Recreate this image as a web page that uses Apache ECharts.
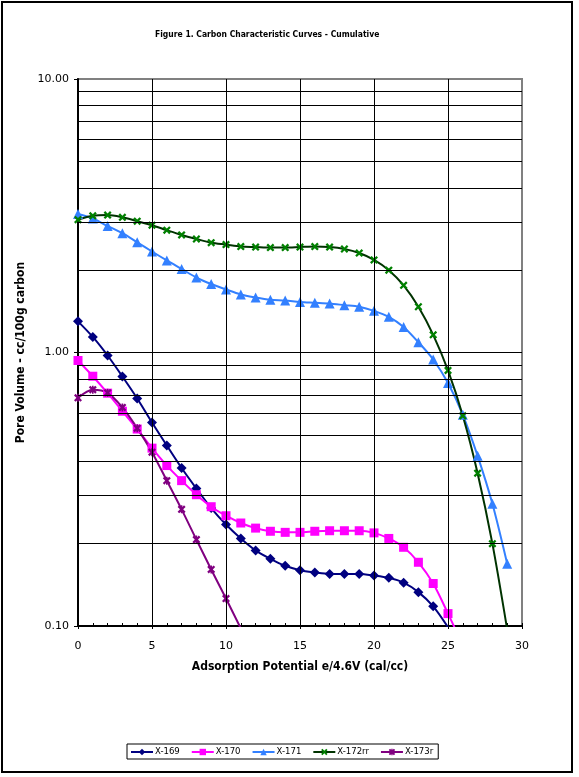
<!DOCTYPE html>
<html>
<head>
<meta charset="utf-8">
<script src="https://cdn.jsdelivr.net/npm/echarts@6/dist/echarts.min.js"></script>
<style>
  html, body { margin: 0; padding: 0; background: #fff; }
  #frame { position: absolute; left: 1px; top: 1px; width: 568px; height: 768px; border: 2px solid #000; }
  #chart { position: absolute; left: 0; top: 0; width: 579px; height: 777px; }
</style>
</head>
<body>
<div id="frame"></div>
<div id="chart"></div>
<script>
// x values (adsorption potential) shared by all series
const potentials = [0, 1, 2, 3, 4, 5, 6, 7, 8, 9, 10, 11, 12, 13, 14, 15, 16, 17, 18, 19, 20, 21, 22, 23, 24, 25, 26, 27, 28, 29];

// pore volume, one array per carbon
const x169 = [1.30, 1.14, 0.975, 0.817, 0.679, 0.555, 0.457, 0.378, 0.318, 0.270, 0.235, 0.209, 0.189, 0.176, 0.166, 0.160, 0.157, 0.155, 0.155, 0.155, 0.153, 0.150, 0.144, 0.133, 0.118, 0.099];
const x170 = [0.935, 0.819, 0.710, 0.610, 0.525, 0.447, 0.386, 0.340, 0.302, 0.273, 0.253, 0.238, 0.228, 0.222, 0.220, 0.220, 0.222, 0.223, 0.223, 0.223, 0.219, 0.209, 0.194, 0.171, 0.143, 0.111, 0.085];
const x171 = [3.21, 3.09, 2.90, 2.73, 2.53, 2.34, 2.17, 2.02, 1.88, 1.78, 1.70, 1.63, 1.59, 1.56, 1.55, 1.53, 1.52, 1.51, 1.49, 1.47, 1.42, 1.35, 1.24, 1.09, 0.943, 0.773, 0.592, 0.419, 0.280, 0.169];
const x172rr = [3.06, 3.16, 3.18, 3.12, 3.02, 2.92, 2.80, 2.69, 2.60, 2.52, 2.48, 2.44, 2.43, 2.42, 2.42, 2.43, 2.44, 2.43, 2.39, 2.31, 2.18, 2.00, 1.76, 1.47, 1.16, 0.86, 0.587, 0.362, 0.200, 0.097];
const x173r = [0.683, 0.731, 0.712, 0.630, 0.529, 0.432, 0.340, 0.267, 0.207, 0.161, 0.126, 0.098];

const seriesNames = ['X-169', 'X-170', 'X-171', 'X-172rr', 'X-173r'];

// gridlines (log minor lines on y, every 5 on x)
const yGridValues = [0.2, 0.3, 0.4, 0.5, 0.6, 0.7, 0.8, 0.9, 1, 2, 3, 4, 5, 6, 7, 8, 9];
const xGridValues = [5, 10, 15, 20, 25];

const pair = (vals) => vals.map((v, i) => [potentials[i], v]);

// marker shapes
const crossPath = 'path://M0,2L2,0L5,3L8,0L10,2L7,5L10,8L8,10L5,7L2,10L0,8L3,5Z';
const starPath = 'path://M0,2L2,0L4,2L4,0L6,0L6,2L8,0L10,2L7,5L10,8L8,10L6,8L6,10L4,10L4,8L2,10L0,8L3,5Z';

const chart = echarts.init(document.getElementById('chart'));

const lineSeries = (name, vals, lineColor, markColor, symbol, size) => ({
  name: name,
  type: 'line',
  data: pair(vals),
  smooth: 0.3,
  symbol: symbol,
  symbolSize: size,
  showAllSymbol: true,
  clip: true,
  z: 3,
  lineStyle: { color: lineColor, width: 2 },
  itemStyle: { color: markColor },
  emphasis: { disabled: true },
});

const option = {
  backgroundColor: 'transparent',
  animation: false,
  textStyle: { fontFamily: 'DejaVu Sans', color: '#000' },
  title: {
    text: 'Figure 1. Carbon Characteristic Curves - Cumulative',
    left: 150,
    top: 25,
    textStyle: { fontSize: 8.5, fontWeight: 'bold', fontFamily: 'DejaVu Sans Condensed', color: '#000' },
  },
  grid: {
    left: 78,
    top: 79,
    right: 57,
    bottom: 151,
    show: true,
    backgroundColor: 'transparent',
    borderColor: '#808080',
    borderWidth: 2,
  },
  legend: {
    data: seriesNames,
    left: 127,
    bottom: 18,
    orient: 'horizontal',
    borderColor: '#000',
    borderWidth: 1,
    padding: [3, 5, 2, 3],
    itemWidth: 22,
    itemHeight: 8,
    itemGap: 11,
    textStyle: { fontSize: 9.5, color: '#000', fontFamily: 'DejaVu Sans Condensed', padding: [0, 0, 0, -3] },
  },
  xAxis: [
    {
      type: 'value',
      min: 0,
      max: 30,
      interval: 5,
      name: 'Adsorption Potential e/4.6V (cal/cc)',
      nameLocation: 'middle',
      nameGap: 35,
      nameTextStyle: { fontSize: 12, fontWeight: 'bold', fontFamily: 'DejaVu Sans Condensed', color: '#000', verticalAlign: 'top' },
      axisLine: { show: true, onZero: false, lineStyle: { color: '#000', width: 2 } },
      axisTick: { show: true, inside: false, length: 3, lineStyle: { color: '#000' } },
      axisLabel: { fontSize: 11, color: '#000', margin: 15 },
      splitLine: { show: false },
    },
    {
      type: 'value',
      position: 'bottom',
      min: 0,
      max: 30,
      interval: 1,
      axisLine: { show: false },
      axisTick: { show: true, inside: true, length: 3, lineStyle: { color: '#000' } },
      axisLabel: { show: false },
      splitLine: { show: false },
    },
  ],
  yAxis: {
    type: 'log',
    logBase: 10,
    min: 0.1,
    max: 10,
    name: 'Pore Volume - cc/100g carbon',
    nameLocation: 'middle',
    nameGap: 45,
    nameTextStyle: { fontSize: 12, fontWeight: 'bold', fontFamily: 'DejaVu Sans Condensed', color: '#000' },
    axisLine: { show: true, lineStyle: { color: '#000', width: 2 } },
    axisTick: { show: true, length: 4, lineStyle: { color: '#000' } },
    axisLabel: { fontSize: 11, color: '#000', margin: 9, formatter: (v) => Number(v).toFixed(2) },
    splitLine: { show: false },
  },
  series: [
    {
      name: 'grid',
      type: 'line',
      data: [],
      z: 1,
      silent: true,
      markLine: {
        silent: true,
        symbol: 'none',
        label: { show: false },
        lineStyle: { color: '#000', width: 1, type: 'solid' },
        emphasis: { disabled: true },
        data: yGridValues.map((v) => ({ yAxis: v })).concat(xGridValues.map((v) => ({ xAxis: v }))),
      },
    },
    lineSeries('X-169', x169, '#000080', '#000080', 'diamond', 10),
    lineSeries('X-170', x170, '#ff00ff', '#ff00ff', 'rect', 9),
    lineSeries('X-171', x171, '#3380ff', '#3380ff', 'triangle', 10),
    lineSeries('X-172rr', x172rr, '#003300', '#008000', crossPath, 8),
    lineSeries('X-173r', x173r, '#800080', '#800080', starPath, 8),
  ],
};

chart.setOption(option);
</script>
</body>
</html>
